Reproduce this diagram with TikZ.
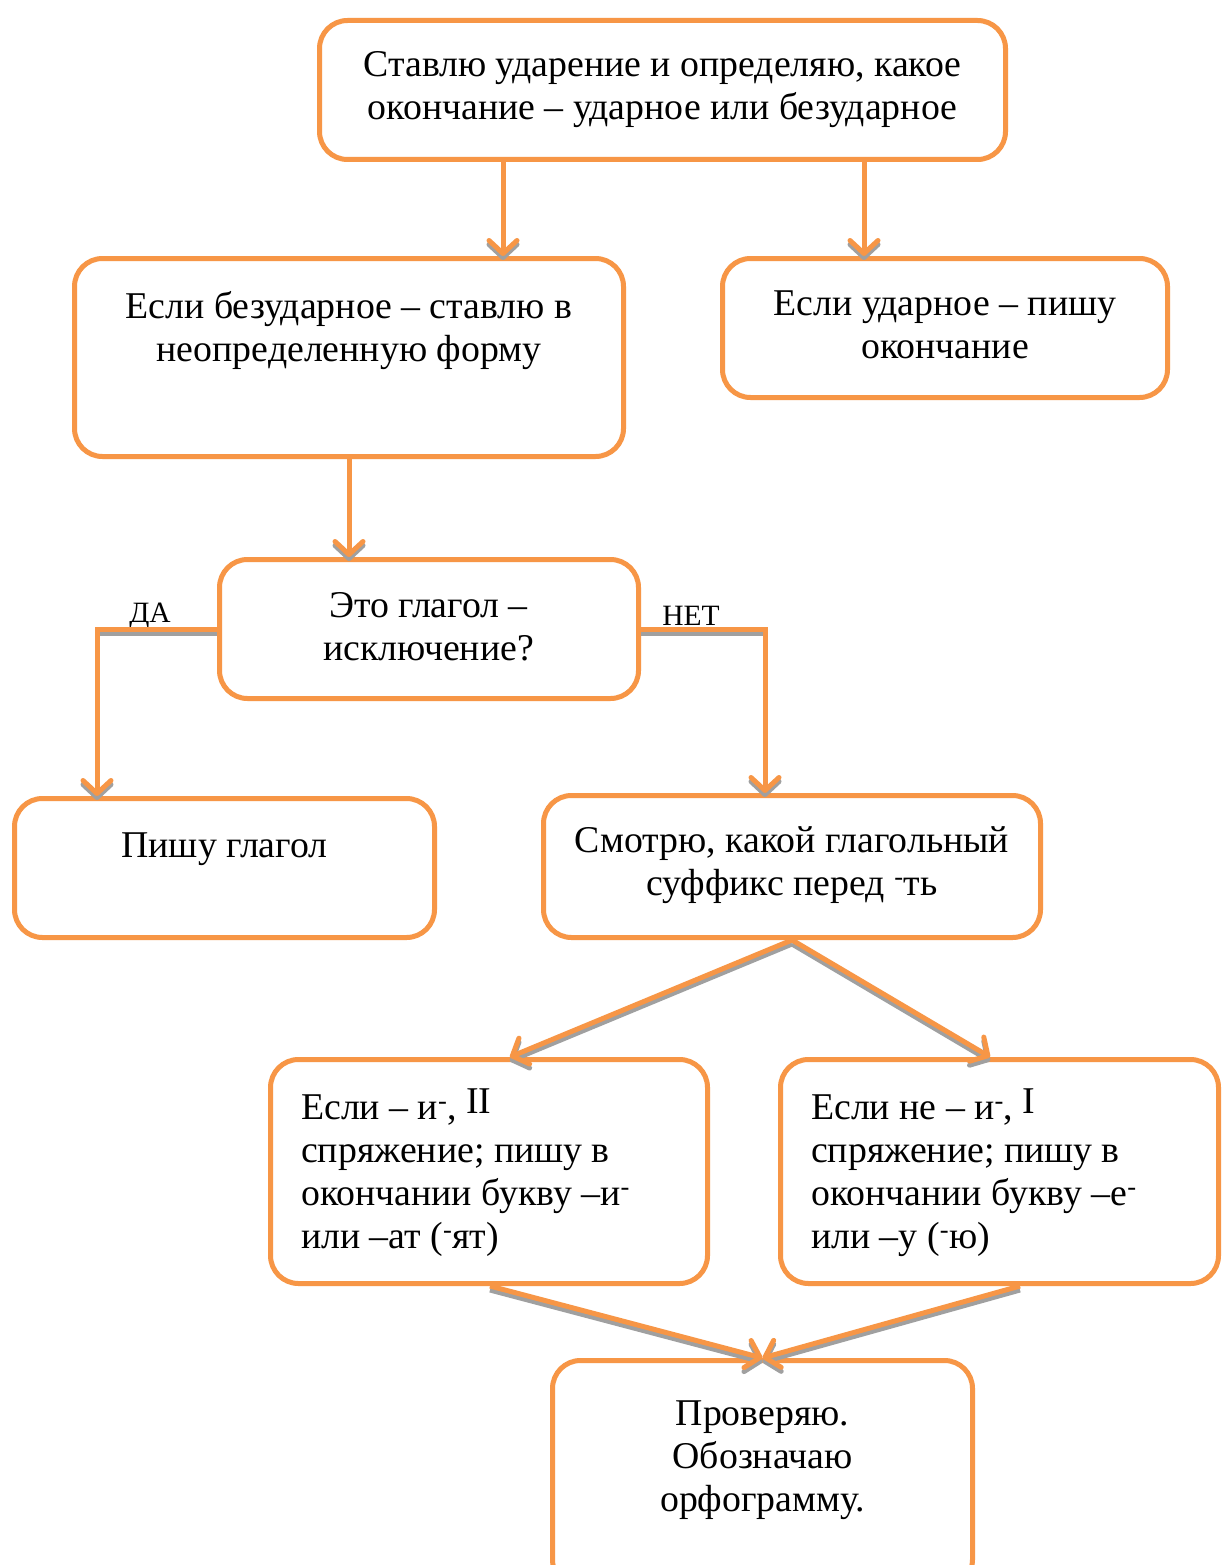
\documentclass[tikz,border=0pt]{standalone}
\usepackage{fontspec}
\setmainfont{Liberation Serif}
\usetikzlibrary{arrows.meta,calc}
\definecolor{orng}{RGB}{247,150,70}
\definecolor{shad}{RGB}{160,160,160}
\newcommand{\sh}{\textsuperscript{-}}
\begin{document}
\begin{tikzpicture}[x=1pt,y=-1pt,
  box/.style={draw=orng,line width=5pt,rounded corners=28pt,inner sep=0pt},
  txt/.style={font=\fontsize{37.8}{43}\selectfont,inner sep=0pt,align=center,anchor=base},
  ltxt/.style={font=\fontsize{37.8}{43}\selectfont,inner sep=0pt,align=left,anchor=base west},
  lbl/.style={font=\fontsize{29.5}{32}\selectfont,inner sep=0pt,anchor=base},
  arr/.style={draw=orng,line width=5pt,
    -{Straight Barb[length=13pt,width=28pt,line width=5pt,round]},
    preaction={draw=shad,line width=5pt,transform canvas={shift={(0pt,-4pt)}}}}
]
\useasboundingbox (0,0) rectangle (1221,1565);
\fill[white] (0,0) rectangle (1221,1565);

% boxes
\node[box,minimum width=686pt,minimum height=139pt] (b1) at (662.5,90) {};
\node[box,minimum width=549pt,minimum height=198pt] (b2) at (349,357.5) {};
\node[box,minimum width=445pt,minimum height=139pt] (b3) at (945,328) {};
\node[box,minimum width=419pt,minimum height=139pt] (b4) at (429,629) {};
\node[box,minimum width=420pt,minimum height=139pt] (b5) at (224.5,868) {};
\node[box,minimum width=497pt,minimum height=142pt] (b6) at (792,866.5) {};
\node[box,minimum width=437pt,minimum height=224pt] (b7) at (489,1171.5) {};
\node[box,minimum width=438pt,minimum height=224pt] (b8) at (999.5,1171.5) {};
\node[box,minimum width=420pt,minimum height=227pt] (b9) at (762.5,1474) {};

% texts (base anchor = baseline of the last line)
\node[txt] (t1) at (662.5,120) {Ставлю ударение и определяю, какое\\окончание – ударное или безударное};
\node[txt] (t2) at (349,361) {Если безударное – ставлю в\\неопределенную форму};
\node[txt] (t3) at (945,358) {Если ударное – пишу\\окончание};
\node[txt] (t4) at (428.5,660) {Это глагол –\\исключение?};
\node[txt] (t5) at (224.5,857) {Пишу глагол};
\node[txt] (t6) at (792,895) {Смотрю, какой глагольный\\суффикс перед \sh ть};
\node[ltxt] (t7) at (301,1248) {Если – и\sh, \raisebox{6pt}{II}\\спряжение; пишу в\\окончании букву –и\sh\\или –ат (\sh ят)};
\node[ltxt] (t8) at (811,1248) {Если не – и\sh, \raisebox{6pt}{I}\\спряжение; пишу в\\окончании букву –е\sh\\или –у (\sh ю)};
\node[txt] (t9) at (762.5,1511) {Проверяю.\\Обозначаю\\орфограмму.};

% labels
\node[lbl] (lda) at (150,622) {ДА};
\node[lbl] (lnet) at (691,625) {НЕТ};

% helper x positions
\coordinate (c1) at (503,0);
\coordinate (c2) at (864,0);
\coordinate (c3) at (349,0);
\coordinate (cda) at (97,0);
\coordinate (cnet) at (765,0);
\coordinate (cl) at (510,0);
\coordinate (cr) at (990,0);
\coordinate (bl) at (490,0);
\coordinate (br) at (1020,0);

% connectors
\draw[arr] (b1.south -| c1) -- (b2.north -| c1);
\draw[arr] (b1.south -| c2) -- (b3.north -| c2);
\draw[arr] (b2.south -| c3) -- (b4.north -| c3);
\draw[arr] (b4.west) -| (b5.north -| cda);
\draw[arr] (b4.east) -| (b6.north -| cnet);
\draw[arr] (b6.south) -- (b7.north -| cl);
\draw[arr] (b6.south) -- (b8.north -| cr);
\draw[arr] (b7.south -| bl) -- (b9.north);
\draw[arr] (b8.south -| br) -- (b9.north);
\end{tikzpicture}
\end{document}
